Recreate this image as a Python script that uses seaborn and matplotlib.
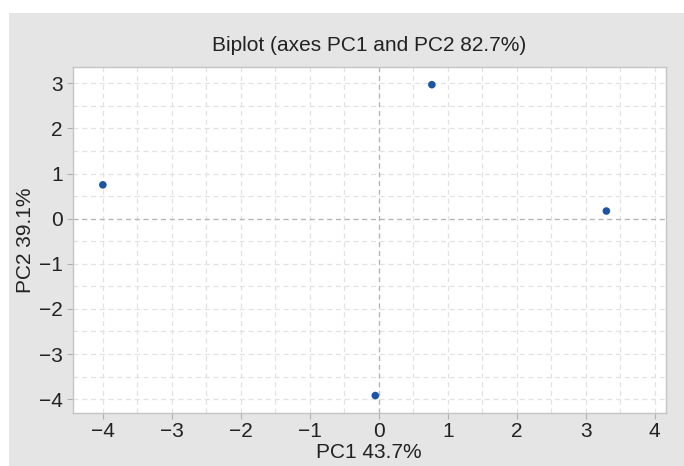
import matplotlib
matplotlib.use("Agg")
import matplotlib.pyplot as plt
from matplotlib.patches import Rectangle
from matplotlib.ticker import MultipleLocator
import seaborn as sns
import pandas as pd

# PCA scores on the first two components
pc1 = [-4.00, 0.77, 3.30, -0.05]
pc2 = [0.75, 2.97, 0.17, -3.92]

title = "Biplot (axes PC1 and PC2 82.7%)"
xlabel = "PC1 43.7%"
ylabel = "PC2 39.1%"
xticks = [-4, -3, -2, -1, 0, 1, 2, 3, 4]
yticks = [-4, -3, -2, -1, 0, 1, 2, 3]

df = pd.DataFrame({"PC1": pc1, "PC2": pc2})

sns.set_theme(style="white")
plt.rcParams["font.family"] = ["Liberation Sans", "DejaVu Sans"]
plt.rcParams["axes.unicode_minus"] = True

fig = plt.figure(figsize=(6.84, 4.66), dpi=100)
fig.patch.set_facecolor("white")
# grey backdrop panel
backdrop = Rectangle((9 / 684, 0), 1 - 9 / 684, 1 - 13 / 466,
                     transform=fig.transFigure, facecolor="#e5e5e5",
                     edgecolor="none", zorder=-10)
fig.patches.append(backdrop)

ax = fig.add_axes([72.5 / 684, 1 - 412.7 / 466, (665.7 - 72.5) / 684, (412.7 - 67.3) / 466])
ax.set_facecolor("white")
ax.set_zorder(1)

sns.scatterplot(data=df, x="PC1", y="PC2", ax=ax, color="#1c55a3",
                s=30, edgecolor="none", zorder=5)

ax.set_xlim(-4.44, 4.16)
ax.set_ylim(-4.30, 3.355)
ax.set_xticks(xticks)
ax.set_yticks(yticks)
ax.xaxis.set_minor_locator(MultipleLocator(0.5))
ax.yaxis.set_minor_locator(MultipleLocator(0.5))
ax.grid(which="both", color="#e2e2e2", linestyle=(0, (4, 3)), linewidth=0.9)
ax.set_axisbelow(True)

# origin reference lines
ax.axhline(0, color="#b4b4b4", linestyle=(0, (4, 3)), linewidth=0.9, zorder=2)
ax.axvline(0, color="#b4b4b4", linestyle=(0, (4, 3)), linewidth=0.9, zorder=2)

for sp in ax.spines.values():
    sp.set_color("#c4c4c4")
    sp.set_linewidth(1.0)

ax.tick_params(axis="both", which="major", direction="out", length=4,
               color="#b0b0b0", width=0.8, labelsize=15, labelcolor="#222222",
               pad=3, bottom=True, left=True)
ax.tick_params(which="minor", length=0)

ax.set_title(title, fontsize=15, color="#222222", pad=12)
ax.set_xlabel(xlabel, fontsize=15, color="#222222", labelpad=1)
ax.set_ylabel(ylabel, fontsize=15, color="#222222", labelpad=3)

fig.savefig("out.png", dpi=100)
